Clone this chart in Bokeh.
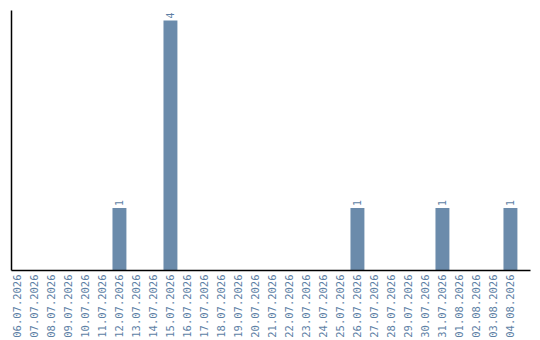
import math
from bokeh.plotting import figure
from bokeh.models import Range1d, FixedTicker, ColumnDataSource
from bokeh.core.properties import value
from bokeh.embed import file_html
from bokeh.resources import INLINE

# Daily counts, 06.07.2026 - 04.08.2026
dates = ["06.07.2026", "07.07.2026", "08.07.2026", "09.07.2026", "10.07.2026",
         "11.07.2026", "12.07.2026", "13.07.2026", "14.07.2026", "15.07.2026",
         "16.07.2026", "17.07.2026", "18.07.2026", "19.07.2026", "20.07.2026",
         "21.07.2026", "22.07.2026", "23.07.2026", "24.07.2026", "25.07.2026",
         "26.07.2026", "27.07.2026", "28.07.2026", "29.07.2026", "30.07.2026",
         "31.07.2026", "01.08.2026", "02.08.2026", "03.08.2026", "04.08.2026"]
counts = [0, 0, 0, 0, 0, 0, 1, 0, 0, 4, 0, 0, 0, 0, 0,
          0, 0, 0, 0, 0, 1, 0, 0, 0, 0, 1, 0, 0, 0, 1]

BAR = "#6b8bab"
TEXT = "#5d7fa5"
FONT = "DejaVu Sans Mono"

idx = list(range(len(dates)))
src = ColumnDataSource(dict(x=idx, top=counts))
nz = [i for i, c in enumerate(counts) if c > 0]
lbl = ColumnDataSource(dict(x=nz, y=[counts[i] for i in nz],
                            t=[str(counts[i]) for i in nz]))

p = figure(width=540, height=340, output_backend="svg", toolbar_location=None,
           x_range=Range1d(-0.35, 30.18), y_range=Range1d(0, 4.16),
           min_border_left=11, min_border_right=10, min_border_top=10,
           min_border_bottom=70)
p.outline_line_color = None
p.grid.visible = False
p.background_fill_color = "white"
p.border_fill_color = "white"

p.vbar(x="x", top="top", width=0.82, bottom=0, source=src,
       fill_color=BAR, line_color=None)

p.text(x="x", y="y", text="t", source=lbl, angle=math.pi / 2,
       text_align="left", text_baseline="middle", y_offset=-2,
       text_color=TEXT, text_font=value(FONT), text_font_size="10px")

xa = p.xaxis[0]
xa.ticker = FixedTicker(ticks=idx)
xa.major_label_overrides = {i: d for i, d in enumerate(dates)}
xa.major_label_orientation = math.pi / 2
xa.major_label_text_font = FONT
xa.major_label_text_font_size = "10.5px"
xa.major_label_text_color = TEXT
xa.major_tick_out = 0
xa.major_tick_in = 0
xa.minor_tick_out = 0
xa.minor_tick_in = 0
xa.axis_line_color = "black"
xa.axis_line_width = 1.5
xa.major_label_standoff = 4

ya = p.yaxis[0]
ya.ticker = FixedTicker(ticks=[])
ya.major_label_text_font_size = "0px"
ya.major_tick_out = 0
ya.major_tick_in = 0
ya.minor_tick_out = 0
ya.minor_tick_in = 0
ya.axis_line_color = "black"
ya.axis_line_width = 1.5

open("out.html", "w").write(file_html(p, INLINE))
